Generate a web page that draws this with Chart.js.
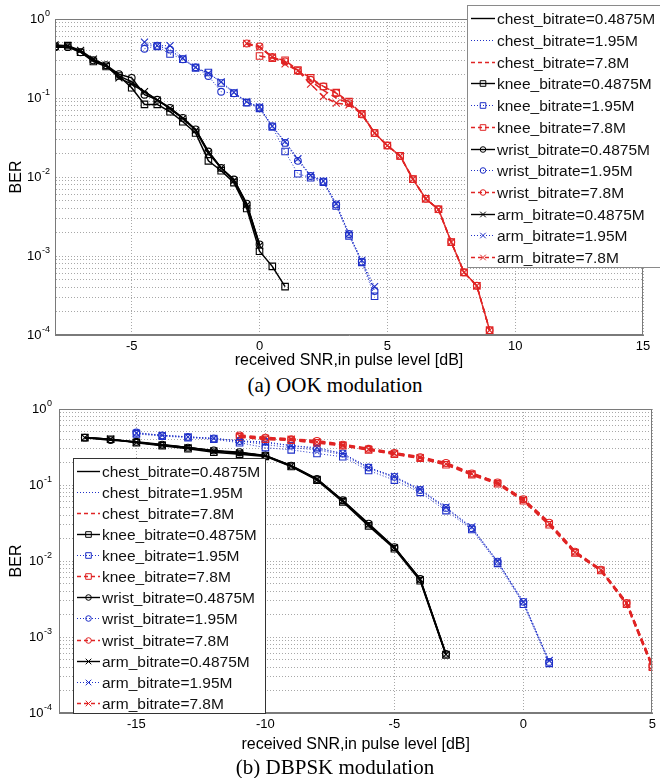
<!DOCTYPE html>
<html><head><meta charset="utf-8">
<script src="https://cdn.jsdelivr.net/npm/chart.js@4.4.1/dist/chart.umd.min.js"></script>
<style>
html,body{margin:0;padding:0;background:#fff;width:660px;height:778px;overflow:hidden;position:relative;}
#c1{position:absolute;left:0;top:0}
#c2{position:absolute;left:0;top:392px}
.cap{position:absolute;width:660px;text-align:center;font-family:"Liberation Serif","Times New Roman",serif;font-size:21px;color:#000;line-height:24px}
#cap1{top:373px;left:5px}
#cap2{top:755px;left:5px}
</style></head>
<body>
<canvas id="c1" width="660" height="372"></canvas>
<div class="cap" id="cap1">(a) OOK modulation</div>
<canvas id="c2" width="660" height="365"></canvas>
<div class="cap" id="cap2">(b) DBPSK modulation</div>
<script>
// ---------- categories / labels ----------
const sites = ['chest','knee','wrist','arm'];
const rates = ['0.4875M','1.95M','7.8M'];
const xTitle = 'received SNR,in pulse level [dB]';
const yTitle = 'BER';
const yDecades = [-4,-3,-2,-1,0];
const yMinorSteps = [1,2,3,4,5,6,7,8,9];
const ookXTicks = [-5,0,5,10,15];
const dbpskXTicks = [-15,-10,-5,0,5];

// ---------- (a) OOK : SNR grids per bitrate ----------
const ookSnr0 = [-8,-7.5,-7,-6.5,-6,-5.5,-5,-4.5,-4,-3.5,-3,-2.5,-2,-1.5,-1,-0.5,0,0.5,1];
const ookSnr1 = [-4.5,-4,-3.5,-3,-2.5,-2,-1.5,-1,-0.5,0,0.5,1,1.5,2,2.5,3,3.5,4,4.5];
const ookSnr2 = [-0.5,0,0.5,1,1.5,2,2.5,3,3.5,4,4.5,5,5.5,6,6.5,7,7.5,8,8.5,9];
// 0.4875M
const ookChest0 = [0.46,0.46,0.39,0.30,0.26,0.19,0.16,0.12,0.095,0.073,0.055,0.040,0.021,0.013,0.0092,0.0045,0.0014,null,null];
const ookKnee0  = [0.45,0.46,0.38,0.29,0.25,0.19,0.135,0.083,0.083,0.067,0.050,0.036,0.016,0.012,0.0085,0.0040,0.00115,0.00074,0.00041];
const ookWrist0 = [0.44,0.44,0.38,0.30,0.26,0.20,0.18,0.11,0.095,0.075,0.056,0.040,0.021,0.013,0.0093,0.0046,0.0014,null,null];
const ookArm0   = [0.47,0.46,0.40,0.31,0.26,0.18,0.15,0.12,0.094,0.074,0.055,0.039,0.020,0.013,0.0090,0.0044,0.00135,null,null];
// 1.95M
const ookChest1 = [0.47,0.46,0.40,0.31,0.24,0.205,0.16,0.117,0.089,0.076,0.043,0.028,0.017,0.0103,0.0088,0.0045,0.0019,0.00085,0.00036];
const ookKnee1  = [null,0.45,0.36,0.31,0.24,0.21,0.155,0.115,0.087,0.074,0.043,0.021,0.011,0.0098,0.0086,0.0043,0.0018,0.00083,0.00031];
const ookWrist1 = [0.42,0.46,0.41,0.31,0.245,0.19,0.12,0.115,0.088,0.076,0.044,0.027,0.016,0.0103,0.0088,0.0045,0.0019,0.00085,0.00036];
const ookArm1   = [0.51,0.46,0.46,0.32,0.245,0.205,0.16,0.118,0.090,0.077,0.044,0.028,0.017,0.0105,0.0089,0.0046,0.0019,0.00088,0.00041];
// 7.8M
const ookChest2 = [0.48,0.44,0.33,0.28,0.22,0.165,0.125,0.10,0.086,0.063,0.036,0.025,0.0185,0.0094,0.0053,0.0039,0.0015,0.00062,0.00042,0.000115];
const ookKnee2  = [null,0.34,0.32,0.30,0.225,0.18,0.14,0.117,0.090,0.063,0.036,0.025,0.0185,0.0094,0.0053,0.0039,0.0015,0.00062,0.00042,0.000115];
const ookWrist2 = [0.49,0.45,0.33,0.29,0.22,0.17,0.14,0.115,0.086,0.062,0.036,0.025,0.0185,0.0094,0.0053,0.0039,0.0015,0.00062,0.00042,0.000115];
const ookArm2   = [0.49,0.44,0.33,0.27,0.22,0.15,0.104,0.086,0.082,0.063,0.036,0.025,0.0185,0.0094,0.0053,0.0039,0.0015,0.00062,0.00042,0.000115];

// ---------- (b) DBPSK ----------
const dbSnr0 = [-17,-16,-15,-14,-13,-12,-11,-10,-9,-8,-7,-6,-5,-4,-3];
const dbSnr1 = [-15,-14,-13,-12,-11,-10,-9,-8,-7,-6,-5,-4,-3,-2,-1,0,1];
const dbSnr2 = [-11,-10,-9,-8,-7,-6,-5,-4,-3,-2,-1,0,1,2,3,4,5];
// 0.4875M
const dbChest0 = [0.42,0.40,0.365,0.335,0.31,0.28,0.266,0.243,0.178,0.119,0.062,0.030,0.015,0.0057,0.00059];
const dbKnee0  = [0.42,0.40,0.36,0.33,0.30,0.27,0.255,0.238,0.175,0.116,0.060,0.029,0.0145,0.0055,0.00058];
const dbWrist0 = [0.42,0.39,0.37,0.34,0.31,0.285,0.27,0.245,0.18,0.12,0.063,0.031,0.0152,0.0058,0.00060];
const dbArm0   = [0.42,0.40,0.365,0.335,0.31,0.28,0.265,0.243,0.178,0.118,0.062,0.030,0.015,0.0057,0.00059];
// 1.95M
const dbChest1 = [0.48,0.45,0.43,0.41,0.38,0.34,0.31,0.29,0.25,0.165,0.125,0.085,0.049,0.027,0.0097,0.0028,0.00047];
const dbKnee1  = [0.47,0.44,0.42,0.40,0.36,0.31,0.29,0.26,0.235,0.155,0.116,0.080,0.046,0.026,0.0093,0.0027,0.00045];
const dbWrist1 = [0.49,0.45,0.43,0.41,0.38,0.37,0.33,0.30,0.26,0.17,0.128,0.086,0.050,0.027,0.0098,0.0029,0.00047];
const dbArm1   = [0.48,0.45,0.43,0.41,0.38,0.36,0.33,0.31,0.26,0.17,0.13,0.088,0.051,0.028,0.0100,0.0029,0.00049];
// 7.8M
const dbChest2 = [0.44,0.41,0.40,0.37,0.335,0.295,0.26,0.229,0.19,0.14,0.107,0.064,0.031,0.013,0.0076,0.0028,0.00041];
const dbKnee2  = [0.43,0.40,0.39,0.36,0.33,0.29,0.255,0.225,0.185,0.137,0.104,0.062,0.030,0.0128,0.0075,0.0027,0.00040];
const dbWrist2 = [0.45,0.42,0.40,0.38,0.34,0.30,0.265,0.232,0.195,0.142,0.108,0.065,0.032,0.0133,0.0077,0.0028,0.00042];
const dbArm2   = [0.44,0.41,0.40,0.37,0.335,0.295,0.26,0.229,0.19,0.14,0.106,0.064,0.031,0.013,0.0076,0.0028,0.00041];

// ---------- styling ----------
const rateStyle = [
  {color:'#000000', dash:[]},
  {color:'#1f30c8', dash:[1,2]},
  {color:'#e02424', dash:[6,4]}
];
const siteMarker = [
  {style:'circle', r:0},
  {style:'rect', r:4.6},
  {style:'circle', r:3.4},
  {style:'crossRot', r:5}
];
const SANS = '"Liberation Sans", Arial, Helvetica, sans-serif';

function buildDatasets(snrs, table, widths){
  const out = [];
  sites.forEach((s,si)=>{
    rates.forEach((r,ri)=>{
      const vals = table[si][ri], xs = snrs[ri];
      const pts = xs.map((x,k)=>({x:x, y:vals[k]})).filter(p=>p.y!==null && p.y!==undefined);
      const st = rateStyle[ri], mk = siteMarker[si];
      out.push({
        label: s + '_bitrate=' + r,
        data: pts,
        borderColor: st.color,
        borderWidth: widths[ri],
        borderDash: st.dash,
        pointStyle: mk.style,
        pointRadius: mk.r,
        pointBorderColor: st.color,
        pointBackgroundColor: 'rgba(0,0,0,0)',
        pointBorderWidth: 1.1,
        fill: false,
        tension: 0,
        spanGaps: false
      });
    });
  });
  return out;
}

function drawMarker(ctx, style, x, y, s, color){
  ctx.save();
  ctx.setLineDash([]);
  ctx.strokeStyle = color; ctx.lineWidth = 1;
  ctx.beginPath();
  if (style==='rect'){ ctx.rect(x-s, y-s, 2*s, 2*s); }
  else if (style==='circle'){ ctx.arc(x, y, s, 0, Math.PI*2); }
  else if (style==='crossRot'){ ctx.moveTo(x-s,y-s); ctx.lineTo(x+s,y+s); ctx.moveTo(x+s,y-s); ctx.lineTo(x-s,y+s); }
  ctx.stroke();
  ctx.restore();
}

const matlabLegend = {
  id:'matlabLegend',
  afterDraw(chart, args, o){
    const ctx = chart.ctx;
    ctx.save();
    ctx.setLineDash([]);
    ctx.fillStyle = '#fff';
    ctx.fillRect(o.x, o.y, o.w, o.h);
    ctx.strokeStyle = o.border; ctx.lineWidth = 1;
    ctx.strokeRect(o.x+0.5, o.y+0.5, o.w, o.h);
    ctx.font = '15.5px ' + SANS;
    ctx.textBaseline = 'middle'; ctx.textAlign = 'left';
    chart.data.datasets.forEach((ds,i)=>{
      const cy = Math.round(o.row0 + i*o.rowH) + 0.5;
      ctx.save();
      ctx.strokeStyle = ds.borderColor; ctx.lineWidth = Math.min(ds.borderWidth, 1.4);
      ctx.setLineDash(ds.borderDash && ds.borderDash.length ? (ds.borderDash[0] > 2 ? [4,3] : [1,2]) : []);
      ctx.beginPath(); ctx.moveTo(o.s0, cy); ctx.lineTo(o.s1, cy); ctx.stroke();
      ctx.restore();
      if (ds.pointRadius > 0) drawMarker(ctx, ds.pointStyle, (o.s0+o.s1)/2, cy, 2.8, ds.borderColor);
      ctx.fillStyle = '#111';
      ctx.fillText(ds.label, o.tx, cy+1);
    });
    ctx.restore();
  }
};

const framePlugin = {
  id:'frame',
  afterDatasetsDraw(chart, args, o){
    const {left, top, right, bottom} = chart.chartArea;
    const ctx = chart.ctx;
    ctx.save(); ctx.setLineDash([]);
    ctx.strokeStyle = o.color; ctx.lineWidth = 1;
    ctx.strokeRect(Math.round(left)+0.5, Math.round(top)+0.5, Math.round(right-left)-1, Math.round(bottom-top)-1);
    ctx.restore();
  }
};

const powLabels = {
  id:'powLabels',
  afterDraw(chart, args, o){
    const ys = chart.scales.y, ctx = chart.ctx;
    ctx.save();
    ctx.fillStyle = '#000';
    ctx.textAlign = 'right'; ctx.textBaseline = 'middle';
    yDecades.forEach(e=>{
      const py = ys.getPixelForValue(Math.pow(10,e));
      const sup = String(e);
      ctx.font = '9px ' + SANS;
      const sw = ctx.measureText(sup).width;
      ctx.fillText(sup, o.right, py - 5.5);
      ctx.font = '13px ' + SANS;
      ctx.fillText('10', o.right - sw - 0.5, py + 0.5);
    });
    ctx.restore();
  }
};

function yGridValues(){
  const v = [];
  yDecades.forEach(e=>{
    yMinorSteps.forEach(m=>{ const val = m*Math.pow(10,e); if (val <= 1.0000001) v.push(val); });
  });
  return v;
}

function makeChart(canvas, cfg){
  return new Chart(canvas, {
    type:'line',
    data:{datasets: cfg.datasets},
    options:{
      responsive:false, animation:false, devicePixelRatio:1,
      events:[],
      layout:{padding:{top:cfg.padTop, right:cfg.padRight, left:0, bottom:0}},
      plugins:{
        legend:{display:false}, tooltip:{enabled:false},
        matlabLegend: cfg.legend,
        frame:{color:'#7a7a7a'},
        powLabels:{right:cfg.powRight}
      },
      scales:{
        x:{
          type:'linear', min:cfg.xmin, max:cfg.xmax,
          afterBuildTicks: s => { s.ticks = cfg.xTicks.map(v=>({value:v})); },
          afterFit: s => { s.height = cfg.xh; },
          grid:{color:'#a8a8a8', lineWidth:1, drawTicks:false},
          border:{display:true, color:'#7a7a7a', width:1, dash:[1,2]},
          ticks:{color:'#000', font:{family:SANS, size:13}, padding:cfg.tickPad, maxRotation:0, autoSkip:false,
                 callback: v => String(v)},
          title:{display:true, text:xTitle, color:'#000', font:{family:SANS, size:16}, padding:{top:0, bottom:cfg.titlePad}}
        },
        y:{
          type:'logarithmic', min:1e-4, max:1,
          afterBuildTicks: s => { s.ticks = yGridValues().map(v=>({value:v})); },
          afterFit: s => { s.width = cfg.yw; },
          grid:{color:'#a8a8a8', lineWidth:1, drawTicks:false},
          border:{display:true, color:'#7a7a7a', width:1, dash:[1,2]},
          ticks:{display:false},
          title:{display:true, text:yTitle, color:'#000', font:{family:SANS, size:16}, padding:{top:7, bottom:0}}
        }
      }
    },
    plugins:[framePlugin, powLabels, matlabLegend]
  });
}

makeChart(document.getElementById('c1'), {
  datasets: buildDatasets([ookSnr0, ookSnr1, ookSnr2], [
    [ookChest0, ookChest1, ookChest2],
    [ookKnee0, ookKnee1, ookKnee2],
    [ookWrist0, ookWrist1, ookWrist2],
    [ookArm0, ookArm1, ookArm2]
  ], [1.5, 1, 1.5]),
  xmin:-8, xmax:15, xTicks:ookXTicks,
  padTop:19, padRight:17, yw:55, xh:37, tickPad:4, titlePad:1.5, powRight:50,
  legend:{x:467, y:5, w:200, h:262, border:'#8a8a8a', row0:18.3, rowH:21.7, s0:471, s1:495, tx:497}
});

makeChart(document.getElementById('c2'), {
  datasets: buildDatasets([dbSnr0, dbSnr1, dbSnr2], [
    [dbChest0, dbChest1, dbChest2],
    [dbKnee0, dbKnee1, dbKnee2],
    [dbWrist0, dbWrist1, dbWrist2],
    [dbArm0, dbArm1, dbArm2]
  ], [1.6, 1, 2.2]),
  xmin:-18, xmax:5, xTicks:dbpskXTicks,
  padTop:17, padRight:5, yw:59, xh:44, tickPad:4, titlePad:2.5, powRight:52,
  legend:{x:73, y:66, w:192, h:255, border:'#333', row0:78.7, rowH:21.1, s0:77, s1:100, tx:102}
});
</script>
</body></html>
